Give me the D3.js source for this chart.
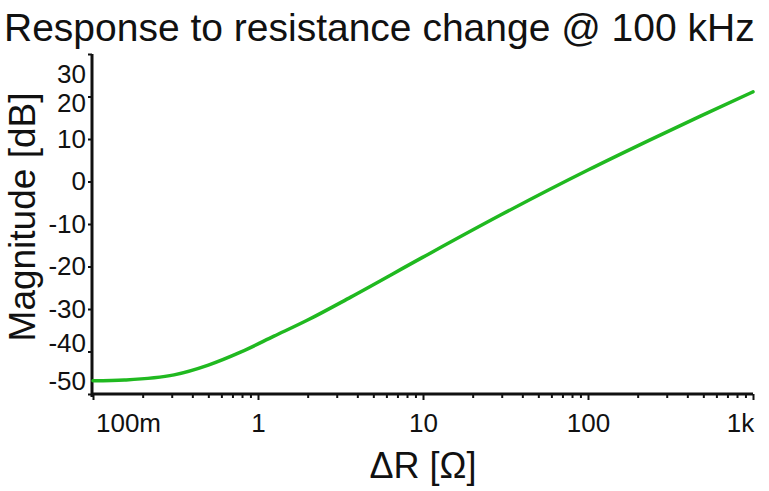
<!DOCTYPE html>
<html>
<head>
<meta charset="utf-8">
<script src="https://cdn.jsdelivr.net/npm/d3@7"></script>
<style>
  body { margin: 0; background: #fff; }
  svg { display: block; font-family: "Liberation Sans", Arial, sans-serif; }
</style>
</head>
<body>
<div id="vis"></div>
<script>
// set constants
const FRAME_WIDTH = 769;
const FRAME_HEIGHT = 491;
const PLOT = {left: 93, right: 753, top: 54, bottom: 394};

// data
const deltaR = [0.1, 0.155, 0.31, 0.5, 0.79, 1.25, 2, 3.65, 10, 29.5, 100, 238, 480, 1000];
const magnitude = [-46.9, -46.7, -45.5, -43.2, -40.1, -36.4, -32.6, -27.2, -17.8, -7.9, 2.7, 9.8, 15.4, 21.1];

const xTicks = [0.1, 1, 10, 100, 1000];
const xTickLabels = ["100m", "1", "10", "100", "1k"];
const yTicks = [30, 20, 10, 0, -10, -20, -30, -40, -50];

const FRAME = d3.select("#vis")
  .append("svg")
    .attr("width", FRAME_WIDTH)
    .attr("height", FRAME_HEIGHT);

FRAME.append("rect")
  .attr("width", FRAME_WIDTH)
  .attr("height", FRAME_HEIGHT)
  .attr("fill", "#fff");

// scales
const X_SCALE = d3.scaleLog()
  .domain([0.1, 1000])
  .range([PLOT.left, PLOT.right]);

const Y_SCALE = d3.scaleLinear()
  .domain([-50, 30])
  .range([PLOT.bottom, PLOT.top]);

// title
FRAME.append("text")
  .attr("x", 4)
  .attr("y", 41)
  .style("font-size", "39px")
  .attr("fill", "#111")
  .text("Response to resistance change @ 100 kHz");

// minor ticks on x (2..9 each decade)
const minorTicks = [];
for (let d = 0.1; d < 1000; d *= 10) {
  for (let k = 2; k <= 9; k++) minorTicks.push(+(d * k).toPrecision(3));
}
FRAME.append("g")
  .attr("transform", "translate(0," + PLOT.bottom + ")")
  .call(d3.axisBottom(X_SCALE).tickValues(minorTicks).tickSize(4).tickFormat(""))
  .call(g => g.select(".domain").remove())
  .selectAll("line").attr("stroke", "#111").attr("stroke-width", 2);

// major x axis
const xAxis = FRAME.append("g")
  .attr("transform", "translate(0," + PLOT.bottom + ")")
  .call(d3.axisBottom(X_SCALE).tickValues(xTicks).tickSize(6).tickPadding(14)
    .tickFormat((d, i) => xTickLabels[i]));
xAxis.select(".domain").attr("stroke", "#111").attr("stroke-width", 3)
  .attr("d", "M" + (PLOT.left - 2) + ",0H" + PLOT.right);
xAxis.selectAll("line").attr("stroke", "#111").attr("stroke-width", 2);
xAxis.selectAll("text")
  .style("font-size", "26px")
  .attr("fill", "#111")
  .attr("dx", (d) => d === 0.1 ? 35 : d === 1000 ? -13 : 0);

// y axis
const yAxis = FRAME.append("g")
  .attr("transform", "translate(" + (PLOT.left - 1) + ",0)")
  .call(d3.axisLeft(Y_SCALE).tickValues(yTicks).tickSize(4).tickPadding(2)
    .tickFormat((d) => String(d)));
yAxis.select(".domain").attr("stroke", "#111").attr("stroke-width", 3)
  .attr("d", "M0," + PLOT.top + "V" + (PLOT.bottom + 3));
yAxis.selectAll("line").attr("stroke", "#111").attr("stroke-width", 2);
yAxis.selectAll("text")
  .style("font-size", "26px")
  .attr("fill", "#111")
  .attr("dy", (d) => {
    const nudge = {30: 20, 20: 7, "-40": -8, "-50": -13};
    return (0.32 * 26 + (nudge[d] || 0)) + "px";
  });

// axis labels
FRAME.append("text")
  .attr("x", (PLOT.left + PLOT.right) / 2)
  .attr("y", 478)
  .attr("text-anchor", "middle")
  .style("font-size", "36px")
  .attr("fill", "#111")
  .text("ΔR [Ω]");

FRAME.append("text")
  .attr("transform", "translate(35," + 217 + ") rotate(-90)")
  .attr("text-anchor", "middle")
  .style("font-size", "37px")
  .attr("fill", "#111")
  .text("Magnitude [dB]");

// response curve
const points = deltaR.map((d, i) => ({x: d, y: magnitude[i]}));
FRAME.append("path")
  .datum(points)
  .attr("fill", "none")
  .attr("stroke", "#20b920")
  .attr("stroke-width", 3.5)
  .attr("stroke-linecap", "round")
  .attr("d", d3.line()
    .x((d) => X_SCALE(d.x))
    .y((d) => Y_SCALE(d.y))
    .curve(d3.curveMonotoneX));
</script>
</body>
</html>
